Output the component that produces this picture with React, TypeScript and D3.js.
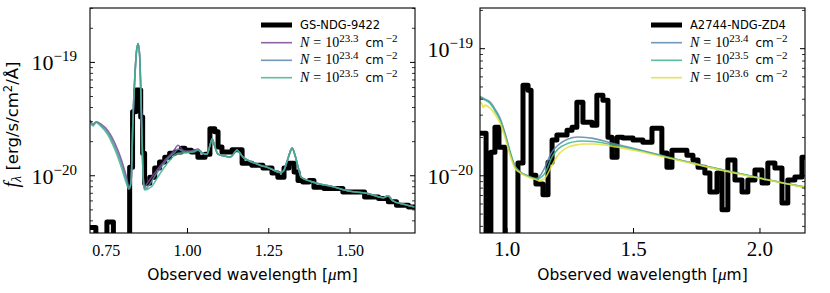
import React from 'react';
import * as d3 from 'd3';

type Pt = [number, number];

// wavelength in µm, f_lambda in units of 1e-20 erg/s/cm^2/Å
const gsSpectrum: Pt[] = [
  [0.700, 0.35], [0.718, 0.1], [0.752, 0.39], [0.772, 0.1], [0.822, 1.19], [0.831, 3.67],
  [0.841, 5.7], [0.856, 3.3], [0.862, 1.58], [0.868, 0.86], [0.884, 0.97], [0.899, 1.17],
  [0.914, 1.32], [0.930, 1.46], [0.945, 1.58], [0.961, 1.62], [0.981, 1.75], [0.992, 1.68],
  [1.012, 1.62], [1.032, 1.46], [1.054, 1.55], [1.069, 2.6], [1.084, 2.45], [1.094, 1.79],
  [1.106, 1.62], [1.137, 1.7], [1.168, 1.29], [1.198, 1.24], [1.232, 1.17], [1.260, 1.06],
  [1.278, 0.97], [1.297, 1.17], [1.312, 1.29], [1.328, 1.08], [1.340, 0.91], [1.355, 0.88],
  [1.374, 0.91], [1.389, 0.79], [1.420, 0.77], [1.478, 0.72], [1.518, 0.72], [1.545, 0.65],
  [1.588, 0.63], [1.618, 0.59], [1.643, 0.55], [1.680, 0.53], [1.700, 0.53],
];

const gsModelN233: Pt[] = [
  [0.700, 3.1], [0.709, 2.85], [0.719, 3.0], [0.734, 2.85], [0.755, 2.5], [0.776, 1.95],
  [0.796, 1.4], [0.812, 0.98], [0.820, 0.8], [0.824, 0.82], [0.827, 0.95], [0.832, 3.0],
  [0.8375, 7.0], [0.8425, 12.0], [0.848, 14.7], [0.853, 11.2], [0.856, 6.1], [0.860, 2.2],
  [0.864, 0.95], [0.868, 0.78], [0.873, 0.83], [0.894, 1.01], [0.914, 1.2], [0.935, 1.42],
  [0.956, 1.63], [0.971, 1.86], [0.986, 1.68], [1.002, 1.65], [1.020, 1.68], [1.032, 1.72],
  [1.045, 1.6], [1.060, 1.55], [1.068, 1.8], [1.076, 2.12], [1.083, 1.85], [1.094, 1.55],
  [1.110, 1.5], [1.131, 1.46], [1.145, 1.6], [1.152, 1.69], [1.160, 1.6], [1.171, 1.46],
  [1.190, 1.35], [1.214, 1.27], [1.230, 1.22], [1.245, 1.19], [1.265, 1.12], [1.285, 1.07],
  [1.295, 1.1], [1.305, 1.3], [1.315, 1.6], [1.322, 1.76], [1.330, 1.55], [1.340, 1.2],
  [1.350, 0.97], [1.375, 0.9], [1.398, 0.86], [1.448, 0.8], [1.500, 0.73], [1.552, 0.7],
  [1.602, 0.64], [1.617, 0.665], [1.632, 0.6], [1.665, 0.56], [1.700, 0.53],
];

const gsModelN234: Pt[] = [
  [0.700, 3.08], [0.709, 2.8], [0.719, 2.97], [0.734, 2.78], [0.755, 2.4], [0.776, 1.83],
  [0.796, 1.3], [0.812, 0.92], [0.820, 0.78], [0.824, 0.81], [0.827, 0.95], [0.832, 3.0],
  [0.8375, 7.0], [0.8425, 12.0], [0.848, 14.7], [0.853, 11.2], [0.856, 6.1], [0.860, 2.2],
  [0.864, 0.93], [0.868, 0.76], [0.885, 0.85], [0.900, 1.0], [0.920, 1.2], [0.940, 1.42],
  [0.960, 1.6], [0.971, 1.72], [0.986, 1.64], [1.002, 1.62], [1.020, 1.65], [1.032, 1.7],
  [1.045, 1.59], [1.060, 1.55], [1.068, 1.8], [1.076, 2.12], [1.083, 1.85], [1.094, 1.55],
  [1.110, 1.5], [1.131, 1.46], [1.145, 1.6], [1.152, 1.69], [1.160, 1.6], [1.171, 1.46],
  [1.190, 1.35], [1.214, 1.27], [1.230, 1.22], [1.245, 1.19], [1.265, 1.12], [1.285, 1.07],
  [1.295, 1.1], [1.305, 1.3], [1.315, 1.6], [1.322, 1.76], [1.330, 1.55], [1.340, 1.2],
  [1.350, 0.97], [1.375, 0.9], [1.398, 0.86], [1.448, 0.8], [1.500, 0.73], [1.552, 0.7],
  [1.602, 0.64], [1.617, 0.665], [1.632, 0.6], [1.665, 0.56], [1.700, 0.53],
];

const gsModelN235: Pt[] = [
  [0.700, 3.05], [0.709, 2.75], [0.719, 2.95], [0.734, 2.72], [0.755, 2.3], [0.776, 1.72],
  [0.796, 1.2], [0.812, 0.86], [0.820, 0.76], [0.824, 0.8], [0.827, 0.95], [0.832, 3.0],
  [0.8375, 7.0], [0.8425, 12.0], [0.848, 14.7], [0.853, 11.2], [0.856, 6.1], [0.860, 2.2],
  [0.864, 0.92], [0.868, 0.75], [0.889, 0.8], [0.909, 0.98], [0.930, 1.2], [0.950, 1.42],
  [0.971, 1.58], [1.002, 1.6], [1.020, 1.62], [1.032, 1.68], [1.045, 1.58], [1.060, 1.55],
  [1.068, 1.8], [1.076, 2.12], [1.083, 1.85], [1.094, 1.55], [1.110, 1.5], [1.131, 1.46],
  [1.145, 1.6], [1.152, 1.69], [1.160, 1.6], [1.171, 1.46], [1.190, 1.35], [1.214, 1.27],
  [1.230, 1.22], [1.245, 1.19], [1.265, 1.12], [1.285, 1.07], [1.295, 1.1], [1.305, 1.3],
  [1.315, 1.6], [1.322, 1.76], [1.330, 1.55], [1.340, 1.2], [1.350, 0.97], [1.375, 0.9],
  [1.398, 0.86], [1.448, 0.8], [1.500, 0.73], [1.552, 0.7], [1.602, 0.64], [1.617, 0.665],
  [1.632, 0.6], [1.665, 0.56], [1.700, 0.53],
];

const zd4Spectrum: Pt[] = [
  [0.893, 2.16], [0.917, 0.1], [0.936, 1.53], [0.952, 2.41], [0.968, 1.68], [0.992, 0.1],
  [1.043, 1.26], [1.063, 5.15], [1.083, 4.71], [1.095, 1.01], [1.114, 0.86], [1.142, 0.71],
  [1.162, 1.28], [1.178, 1.91], [1.197, 2.09], [1.237, 2.28], [1.257, 2.41], [1.276, 3.79],
  [1.300, 2.64], [1.336, 2.5], [1.355, 4.3], [1.379, 3.93], [1.399, 2.01], [1.415, 1.4],
  [1.435, 2.01], [1.458, 1.98], [1.498, 1.91], [1.537, 1.84], [1.573, 2.37], [1.612, 1.51],
  [1.632, 1.17], [1.652, 1.59], [1.683, 1.59], [1.711, 1.45], [1.735, 1.33], [1.755, 1.17],
  [1.782, 1.05], [1.802, 0.745], [1.830, 1.05], [1.850, 0.54], [1.873, 1.33], [1.901, 0.925],
  [1.929, 0.745], [1.952, 0.925], [1.980, 1.11], [2.008, 0.877], [2.031, 1.26], [2.059, 1.15],
  [2.087, 0.61], [2.110, 0.925], [2.138, 0.98], [2.166, 1.4], [2.178, 1.4],
];

const zd4ModelN234: Pt[] = [
  [0.893, 4.2], [0.913, 4.0], [0.933, 3.8], [0.952, 3.35], [0.972, 2.84], [0.992, 2.16],
  [1.012, 1.55], [1.031, 1.2], [1.051, 1.08], [1.083, 1.0], [1.110, 0.95], [1.122, 0.96],
  [1.136, 1.04], [1.150, 1.17], [1.162, 1.33], [1.174, 1.5], [1.201, 1.74], [1.241, 1.95],
  [1.280, 2.02], [1.300, 2.01], [1.340, 1.97], [1.407, 1.82], [1.506, 1.63], [1.604, 1.46],
  [1.703, 1.3], [1.802, 1.17], [1.901, 1.06], [2.000, 0.96], [2.099, 0.875], [2.178, 0.815],
];

const zd4ModelN235: Pt[] = [
  [0.893, 4.1], [0.913, 3.95], [0.933, 3.7], [0.952, 3.25], [0.972, 2.75], [0.992, 2.1],
  [1.012, 1.52], [1.031, 1.18], [1.051, 1.07], [1.083, 0.99], [1.110, 0.95], [1.122, 0.94],
  [1.136, 0.98], [1.150, 1.05], [1.162, 1.18], [1.174, 1.36], [1.201, 1.62], [1.241, 1.8],
  [1.280, 1.87], [1.300, 1.88], [1.340, 1.86], [1.407, 1.77], [1.506, 1.61], [1.604, 1.45],
  [1.703, 1.3], [1.802, 1.17], [1.901, 1.06], [2.000, 0.96], [2.099, 0.875], [2.178, 0.815],
];

const zd4ModelN236: Pt[] = [
  [0.893, 3.8], [0.900, 3.7], [0.905, 3.45], [0.913, 3.6], [0.933, 3.4], [0.952, 3.05],
  [0.972, 2.6], [0.992, 2.0], [1.012, 1.45], [1.031, 1.15], [1.051, 1.06], [1.083, 0.98],
  [1.110, 0.94], [1.130, 0.91], [1.140, 0.93], [1.150, 0.96], [1.162, 1.05], [1.174, 1.17],
  [1.201, 1.45], [1.241, 1.68], [1.280, 1.76], [1.300, 1.78], [1.340, 1.78], [1.407, 1.72],
  [1.506, 1.58], [1.604, 1.43], [1.703, 1.29], [1.802, 1.16], [1.901, 1.05], [2.000, 0.955],
  [2.099, 0.87], [2.178, 0.81],
];

const leftTicks = [0.75, 1.0, 1.25, 1.5];
const rightTicks = [1.0, 1.5, 2.0];

const SERIF = "'Liberation Serif', 'DejaVu Serif', serif";
const SANS = "'DejaVu Sans', Verdana, sans-serif";

const PURPLE = '#7b4a8e';
const BLUE = '#5b86ad';
const GREEN = '#3fb38c';
const YELLOW = '#e3e036';

type Model = { exp: string; color: string; data: Pt[] };

type PanelProps = {
  id: string;
  box: { l: number; r: number; t: number; b: number };
  xDomain: [number, number];
  yDomain: [number, number];
  xTicks: number[];
  xFmt: (v: number) => string;
  xFont: number;
  yGap: number;
  name: string;
  spectrum: Pt[];
  models: Model[];
  yLabel?: boolean;
};

function NLabel({ x, y, exp }: { x: number; y: number; exp: string }) {
  return (
    <text x={x} y={y} fontFamily={SANS} fontSize={12}>
      <tspan fontFamily={SERIF} fontStyle="italic" fontSize={14}>N</tspan>
      <tspan fontFamily={SERIF} fontSize={14} dx={4}>=</tspan>
      <tspan fontFamily={SERIF} fontSize={14} dx={4}>10</tspan>
      <tspan fontFamily={SERIF} fontSize={11} dy={-5}>{exp}</tspan>
      <tspan dy={5} dx={7}>cm</tspan>
      <tspan fontFamily={SERIF} fontSize={11} dy={-5} dx={2}>{'\u22122'}</tspan>
    </text>
  );
}

function Panel({ id, box, xDomain, yDomain, xTicks, xFmt, xFont, yGap, name, spectrum, models, yLabel }: PanelProps) {
  const x = d3.scaleLinear().domain(xDomain).range([box.l, box.r]);
  const y = d3.scaleLog().domain(yDomain).range([box.b, box.t]);
  const step = d3.line<Pt>().x(d => x(d[0])).y(d => y(d[1])).curve(d3.curveStepAfter);
  const smooth = d3.line<Pt>().x(d => x(d[0])).y(d => y(d[1])).curve(d3.curveMonotoneX);

  const all = y.ticks();
  const isMajor = (v: number) => Math.abs(Math.log10(v) - Math.round(Math.log10(v))) < 1e-9;
  const major = all.filter(isMajor);
  const minor = all.filter(v => !isMajor(v));

  const rows = [25, 42.7, 60.3, 77.7];
  const lx0 = box.r - 154;
  const lx1 = box.r - 123;
  const tx = box.r - 115;

  return (
    <g>
      <defs>
        <clipPath id={id}>
          <rect x={box.l} y={box.t} width={box.r - box.l} height={box.b - box.t} />
        </clipPath>
      </defs>
      <g clipPath={`url(#${id})`}>
        <path d={step(spectrum) || ''} fill="none" stroke="#000" strokeWidth={5} strokeLinejoin="round" />
        {models.map(m => (
          <path key={m.exp} d={smooth(m.data) || ''} fill="none" stroke={m.color} strokeWidth={1.6} strokeOpacity={0.85} />
        ))}
      </g>

      {/* y ticks on both spines */}
      {major.map(v => (
        <g key={'M' + v}>
          <line x1={box.l} x2={box.l + 5} y1={y(v)} y2={y(v)} stroke="#000" />
          <line x1={box.r} x2={box.r - 5} y1={y(v)} y2={y(v)} stroke="#000" />
          <text x={box.l - yGap} y={y(v) + 8} textAnchor="end" fontFamily={SERIF} fontSize={22}>
            10<tspan fontSize={15} dy={-9}>{'\u2212' + String(20 - Math.round(Math.log10(v)))}</tspan>
          </text>
        </g>
      ))}
      {minor.map(v => (
        <g key={'m' + v}>
          <line x1={box.l} x2={box.l + 3} y1={y(v)} y2={y(v)} stroke="#000" strokeWidth={0.8} />
          <line x1={box.r} x2={box.r - 3} y1={y(v)} y2={y(v)} stroke="#000" strokeWidth={0.8} />
        </g>
      ))}

      {/* x ticks */}
      {xTicks.map(v => (
        <g key={'x' + v}>
          <line x1={x(v)} x2={x(v)} y1={box.b} y2={box.b - 5} stroke="#000" />
          <text x={x(v)} y={box.b + 23} textAnchor="middle" fontFamily={SERIF} fontSize={xFont}>{xFmt(v)}</text>
        </g>
      ))}

      <rect x={box.l} y={box.t} width={box.r - box.l} height={box.b - box.t} fill="none" stroke="#000" strokeWidth={1.1} />

      <text x={(box.l + box.r) / 2} y={280} textAnchor="middle" fontFamily={SANS} fontSize={15.5}>
        Observed wavelength [<tspan fontFamily={SERIF} fontStyle="italic" fontSize={17}>{'\u03bc'}</tspan>m]
      </text>

      {yLabel && (
        <text transform={`translate(18,${(box.t + box.b) / 2 + 4}) rotate(-90)`} textAnchor="middle" fontFamily={SANS} fontSize={16.5}>
          <tspan fontFamily={SERIF} fontStyle="italic" fontSize={20}>f</tspan>
          <tspan fontFamily={SERIF} fontStyle="italic" fontSize={14} dy={3}>{'\u03bb'}</tspan>
          <tspan dy={-3}>{' [erg/s/cm'}</tspan>
          <tspan fontSize={11.5} dy={-6}>2</tspan>
          <tspan dy={6}>{'/\u00c5]'}</tspan>
        </text>
      )}

      {/* legend */}
      <line x1={lx0} x2={lx1} y1={rows[0]} y2={rows[0]} stroke="#000" strokeWidth={5} />
      <text x={tx} y={rows[0] + 4} fontFamily={SANS} fontSize={11.5}>{name}</text>
      {models.map((m, i) => (
        <g key={'leg' + m.exp}>
          <line x1={lx0} x2={lx1} y1={rows[i + 1]} y2={rows[i + 1]} stroke={m.color} strokeWidth={1.6} strokeOpacity={0.85} />
          <NLabel x={tx} y={rows[i + 1] + 4} exp={m.exp} />
        </g>
      ))}
    </g>
  );
}

export default function App() {
  return (
    <svg width={830} height={293} style={{ position: 'absolute', left: 0, top: 0, background: '#fff' }}>
      <Panel
        id="clipL"
        box={{ l: 90, r: 415, t: 8, b: 233 }}
        xDomain={[0.7, 1.7]}
        yDomain={[Math.pow(10, -0.505), Math.pow(10, 1.48)]}
        xTicks={leftTicks}
        xFmt={v => v.toFixed(2)}
        xFont={16}
        yGap={13}
        name="GS-NDG-9422"
        spectrum={gsSpectrum}
        models={[
          { exp: '23.3', color: PURPLE, data: gsModelN233 },
          { exp: '23.4', color: BLUE, data: gsModelN234 },
          { exp: '23.5', color: GREEN, data: gsModelN235 },
        ]}
        yLabel
      />
      <Panel
        id="clipR"
        box={{ l: 480, r: 805, t: 8, b: 233 }}
        xDomain={[0.893, 2.178]}
        yDomain={[Math.pow(10, -0.45), Math.pow(10, 1.32)]}
        xTicks={rightTicks}
        xFmt={v => v.toFixed(1)}
        xFont={21}
        yGap={7}
        name="A2744-NDG-ZD4"
        spectrum={zd4Spectrum}
        models={[
          { exp: '23.4', color: BLUE, data: zd4ModelN234 },
          { exp: '23.5', color: GREEN, data: zd4ModelN235 },
          { exp: '23.6', color: YELLOW, data: zd4ModelN236 },
        ]}
      />
    </svg>
  );
}
